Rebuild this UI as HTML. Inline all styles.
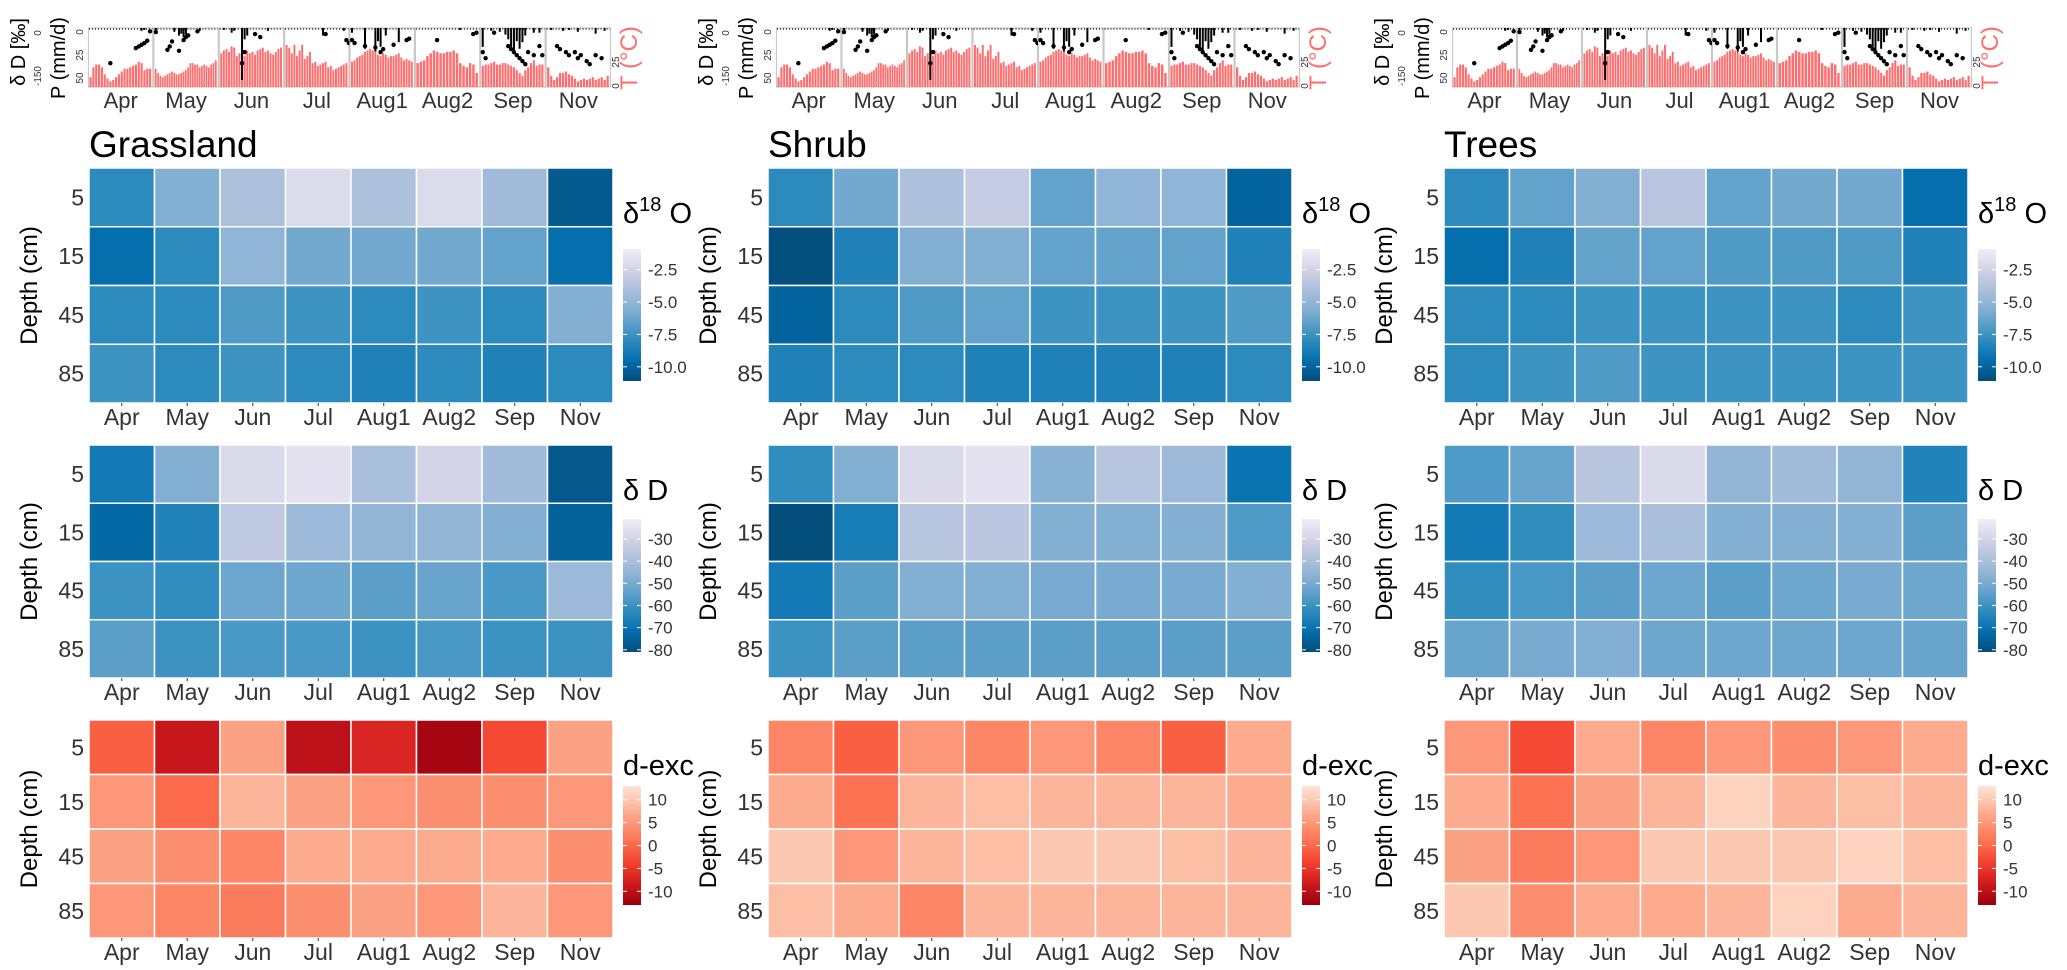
<!DOCTYPE html>
<html><head><meta charset="utf-8"><style>
html,body{margin:0;padding:0;background:#fff;}
svg{display:block;font-family:"Liberation Sans",sans-serif;}
</style></head>
<body>
<svg id="fig" width="2067" height="970" viewBox="0 0 2067 970" xmlns="http://www.w3.org/2000/svg"></svg>
<script>
// ---------- data ----------
const months=['Apr','May','Jun','Jul','Aug1','Aug2','Sep','Nov'];
const depths=['5','15','45','85'];
const sites=['Grassland','Shrub','Trees'];
const o18Grass=[[-8,-5.5,-4,-2,-4,-2,-4.5,-10.5],[-9.5,-8,-5,-6,-6,-6,-6.5,-9.5],[-8,-8,-7,-7.5,-8,-7.5,-8,-5.5],[-7.5,-8,-7.5,-8,-8.5,-8,-8.5,-8]];
const o18Shrub=[[-8,-6,-4,-3,-6.5,-5,-5,-10],[-11,-8.5,-5.5,-5.5,-6.5,-6.5,-6.5,-8.5],[-10,-8,-7,-6.5,-7.5,-7.5,-7.5,-7],[-8.5,-8,-8,-8.5,-8.5,-8.5,-8.5,-8]];
const o18Trees=[[-8,-6.5,-5.5,-3.5,-6.5,-6,-6,-9.5],[-9.5,-8.5,-6.5,-6.5,-7,-7,-7,-8.5],[-8,-8,-7.5,-7.5,-7.5,-7.5,-8,-7.5],[-8,-7.5,-7,-7.5,-7.5,-7.5,-7.5,-7.5]];
const dGrass=[[-68,-48,-28,-25,-40,-30,-42,-78],[-73,-65,-35,-43,-45,-45,-48,-75],[-60,-62,-52,-52,-55,-53,-58,-43],[-55,-60,-58,-58,-60,-58,-60,-60]];
const dShrub=[[-62,-48,-28,-25,-47,-37,-43,-70],[-82,-67,-37,-36,-48,-48,-48,-57],[-68,-55,-48,-48,-50,-50,-50,-48],[-60,-55,-55,-55,-55,-55,-55,-55]];
const dTrees=[[-57,-53,-37,-28,-45,-42,-45,-65],[-68,-62,-43,-40,-48,-48,-48,-55],[-62,-58,-55,-52,-55,-52,-50,-52],[-53,-50,-48,-52,-52,-52,-52,-53]];
const dexGrass=[[-1,-9,6,-10,-7,-12,-3,6],[5,0,8,6,5,4,4,5],[6,4,3,7,7,7,7,4],[5,3,2,4,6,5,8,5]];
const dexShrub=[[3,-1,5,3,5,3,-1,7],[7,1,8,9,8,8,8,7],[10,5,8,9,10,10,9,8],[9,7,3,8,8,8,8,8]];
const dexTrees=[[5,-3,7,3,5,4,5,7],[7,1,6,8,11,8,9,8],[6,2,5,10,10,10,11,9],[10,4,7,7,8,11,7,8]];
const o18Ticks=[-2.5,-5.0,-7.5,-10.0];
const dTicks=[-30,-40,-50,-60,-70,-80];
const dexTicks=[10,5,0,-5,-10];
// climate panel data (per month panel)
const temps=[
[7,14,16,16,14,9,6,4,5,7,9,11,13,13,14,15,16,18,17,12,13,13],
[13,10,8,7,8,9,10,11,10,9,9,10,11,12,14,17,17,16,16,14,15,16,15,14,16,17,19],
[24,26,27,25,29,28,22,24,23,22,26,24,25,23,26,27,28,25,26,24,23,25,27,28],
[30,28,24,30,22,26,30,20,22,25,17,18,15,16,17,18,14,15,12,13,14,15,16,17],
[18,19,21,22,23,25,26,27,26,25,23,22,24,23,21,22,22,23,24,21,19,20,19,18],
[17,18,19,22,24,26,25,24,24,25,25,26,24,17,15,14,17,16,10],
[15,16,16,17,18,16,16,17,17,16,15,14,12,10,8,12,14,17,19,15,16,16],
[14,8,5,7,10,10,11,9,8,6,4,5,6,5,6,7,5,6,7,5,8]];
const precip=[
[[18,3],[19,2]],
[[0,2],[8,4],[10,8],[11,6],[12,10],[13,7],[19,3]],
[[1,2],[4,5],[5,3],[8,55],[9,12],[10,8],[18,3]],
[[14,8],[22,3]],
[[0,5],[5,22],[9,25],[10,14],[11,20],[13,8],[18,15]],
[[13,2]],
[[0,20],[3,3],[6,4],[8,7],[9,12],[10,20],[11,25],[12,14],[13,22],[14,15],[15,8],[18,5],[20,5]],
[[1,2],[5,3],[7,2],[10,4],[16,6],[19,3]]];
const isoD=[
[[7,-105],[16,-60],[17,-55],[18,-50],[19,-45],[20,-38],[21,-10]],
[[0,-12],[5,-65],[6,-55],[7,-40],[10,-68],[12,-36],[13,-27],[14,-22],[18,-10]],
[[8,-105],[9,-72],[13,-18],[15,-27]],
[[15,-18],[23,-36],[24,-45]],
[[0,-36],[1,-45],[5,-54],[9,-58],[11,-72],[12,-63],[16,-50],[21,-36],[22,-32]],
[[6,-36],[17,-18],[18,-14]],
[[0,-72],[1,-90],[4,-14],[9,-54],[10,-63],[11,-72],[12,-81],[13,-90],[14,-99],[15,-108],[16,-72],[18,-81],[20,-54],[21,-81]],
[[3,-54],[4,-63],[6,-72],[7,-81],[9,-72],[10,-90],[11,-81],[13,-99],[14,-108],[16,-81],[18,-90]]];

// ---------- helpers ----------
const NS='http://www.w3.org/2000/svg';
const svg=document.getElementById('fig');
function mk(tag,attrs,parent){const e=document.createElementNS(NS,tag);for(const k in attrs)e.setAttribute(k,attrs[k]);(parent||svg).appendChild(e);return e;}
function hex(h){return [1,3,5].map(i=>parseInt(h.substr(i,2),16));}
function interp(pal,t){t=Math.max(0,Math.min(1,t));const n=pal.length-1;const i=Math.min(n-1,Math.floor(t*n));const f=t*n-i;const a=hex(pal[i]),b=hex(pal[i+1]);return 'rgb('+a.map((v,k)=>Math.round(v+(b[k]-v)*f)).join(',')+')';}
const bluePal=['#034e7b','#0570b0','#3690c0','#74a9cf','#a6bddb','#d0d1e6','#f1eef6'];
const redPal=['#99000d','#cb181d','#ef3b2c','#fb6a4a','#fc9272','#fcbba1','#fee5d9'];
const defs=mk('defs',{});
function grad(id,pal){const g=mk('linearGradient',{id:id,x1:0,y1:1,x2:0,y2:0},defs);pal.forEach((c,i)=>mk('stop',{offset:(i/(pal.length-1)),'stop-color':c},g));}
grad('gBlue',bluePal);grad('gRed',redPal);

const colX=[89,768,1444];
const miniX=[88,776,1452];
const miniW=[523,524,520];
const hmTop=[168,445,720];
const hmH=[235,233,218];
const HW=524;
const datasets=[[o18Grass,dGrass,dexGrass],[o18Shrub,dShrub,dexShrub],[o18Trees,dTrees,dexTrees]];
const scales=[{min:-11.1,max:-0.9,pal:bluePal,g:'gBlue',ticks:o18Ticks,top:249,bot:381,fmt:v=>v.toFixed(1)},
{min:-81,max:-21,pal:bluePal,g:'gBlue',ticks:dTicks,top:519,bot:652,fmt:v=>String(v)},
{min:-13,max:13,pal:redPal,g:'gRed',ticks:dexTicks,top:786,bot:905,fmt:v=>String(v)}];
const legendNames=['d18o','dd','d-excess'];

for(let c=0;c<3;c++){
  const x0=colX[c];
  const col=mk('g',{});
  
  
  // ---- mini climate chart ----
  const mg=mk('g',{},col);
  
  
  const mx=miniX[c],mw=miniW[c],mt=28,mb=87,mh=mb-mt,pw=mw/8;
  const yT=v=>mb-v/42*mh, yP=v=>mt+v/62.5*mh, yD=v=>mt+(-v)/176*mh;
  for(let k=0;k<8;k++){
    const px=mx+k*pw;
    const n=temps[k].length;const bw=(pw-3)/n;
    const pb=mk('rect',{x:px+0.5,y:mt,width:pw-1,height:mh,fill:'#fff',stroke:'#c8c8c8','stroke-width':1.2},mg);
    
    
    temps[k].forEach((t,i)=>{
      const r=mk('rect',{x:px+1.5+i*bw,y:yT(t),width:Math.max(1,bw*0.75),height:mb-yT(t),fill:'#ff6e6e'},mg);
      
      
    });
    const dl=mk('line',{x1:px+1,x2:px+pw-1,y1:mt+1,y2:mt+1,stroke:'#000','stroke-width':1.2,'stroke-dasharray':'1 2'},mg);
    
    
    precip[k].forEach(p=>{
      const r=mk('rect',{x:px+1.5+p[0]*bw,y:mt,width:2,height:yP(p[1])-mt,fill:'#000'},mg);
      
      
    });
    isoD[k].forEach(p=>{
      const d=mk('circle',{cx:px+2.5+p[0]*bw,cy:yD(p[1]),r:2.2,fill:'#000'},mg);
      
      
    });
    const ml=mk('text',{x:px+pw/2,y:108,'text-anchor':'middle','font-size':22,fill:'#333'},mg);
    ml.textContent=months[k];
    
    
  }
  function rot(txt,x,y,size,fill,name){const t=mk('text',{x:x,y:y,'font-size':size,fill:fill,'text-anchor':'middle',transform:'rotate(-90 '+x+' '+y+')'},mg);t.textContent=txt;return t;}
  const lo=mx-88;
  rot('δ D [‰]',lo+25,52,20,'#000','deltaD-axis-title');
  rot('0',lo+41,33,10,'#333','deltaD-tick');
  rot('-150',lo+41,76,10,'#333','deltaD-tick');
  rot('P (mm/d)',lo+65,58,20,'#000','precip-axis-title');
  rot('0',lo+83,32,10,'#333','precip-tick');
  rot('25',lo+83,55,10,'#333','precip-tick');
  rot('50',lo+83,78,10,'#333','precip-tick');
  rot('25',mx+mw+8,62,10,'#333','temp-tick');
  rot('0',mx+mw+8,86,10,'#333','temp-tick');
  rot('T (°C)',mx+mw+26,58,24,'#ff6e6e','temp-axis-title');

  // ---- title ----
  const tt=mk('text',{x:x0,y:157,'font-size':37,fill:'#000'},col);
  tt.textContent=sites[c];
  
  

  // ---- heatmaps ----
  for(let h=0;h<3;h++){
    const g=mk('g',{},col);
    
    
    const sc=scales[h],data=datasets[c][h];
    const top=hmTop[h],H=hmH[h],cw=HW/8,rh=H/4;
    for(let i=0;i<4;i++)for(let j=0;j<8;j++){
      const v=data[i][j];
      const r=mk('rect',{x:x0+j*cw,y:top+i*rh,width:cw,height:rh,fill:interp(sc.pal,(v-sc.min)/(sc.max-sc.min)),stroke:'#fff','stroke-width':1.5},g);
      
      
    }
    for(let j=0;j<8;j++){
      const t=mk('text',{x:x0+(j+0.5)*cw,y:top+H+22,'text-anchor':'middle','font-size':23,fill:'#333'},g);
      t.textContent=months[j];
      
      
      mk('line',{x1:x0+(j+0.5)*cw,x2:x0+(j+0.5)*cw,y1:top+H,y2:top+H+3,stroke:'#333'},g);
    }
    for(let i=0;i<4;i++){
      const t=mk('text',{x:x0-5,y:top+(i+0.5)*rh+8,'text-anchor':'end','font-size':23,fill:'#333'},g);
      t.textContent=depths[i];
      
      
    }
    const yx=x0-52,yy=top+H/2;
    const yl=mk('text',{x:yx,y:yy,'text-anchor':'middle','font-size':24,fill:'#000',transform:'rotate(-90 '+yx+' '+yy+')'},g);
    yl.textContent='Depth (cm)';
    
    
    // legend
    const lx=x0+HW+10;
    const lg=mk('g',{},g);
    
    
    const lt=mk('text',{x:lx,y:h===0?223:(h===1?500:775),'font-size':29,fill:'#000'},lg);
    if(h===0){lt.innerHTML='δ<tspan dy="-12" font-size="20">18</tspan><tspan dy="12"> O</tspan>';}
    else if(h===1){lt.textContent='δ D';}
    else{lt.textContent='d-exc';}
    
    
    const cb=mk('rect',{x:lx,y:sc.top,width:18,height:sc.bot-sc.top,fill:'url(#'+sc.g+')'},lg);
    
    
    sc.ticks.forEach(v=>{
      const y=sc.bot-(v-sc.min)/(sc.max-sc.min)*(sc.bot-sc.top);
      mk('line',{x1:lx,x2:lx+4,y1:y,y2:y,stroke:'#fff','stroke-width':1},lg);
      mk('line',{x1:lx+14,x2:lx+18,y1:y,y2:y,stroke:'#fff','stroke-width':1},lg);
      const t=mk('text',{x:lx+25,y:y+6,'font-size':17,fill:'#333'},lg);
      t.textContent=sc.fmt(v);
      
      
    });
  }
}
</script>
</body></html>
